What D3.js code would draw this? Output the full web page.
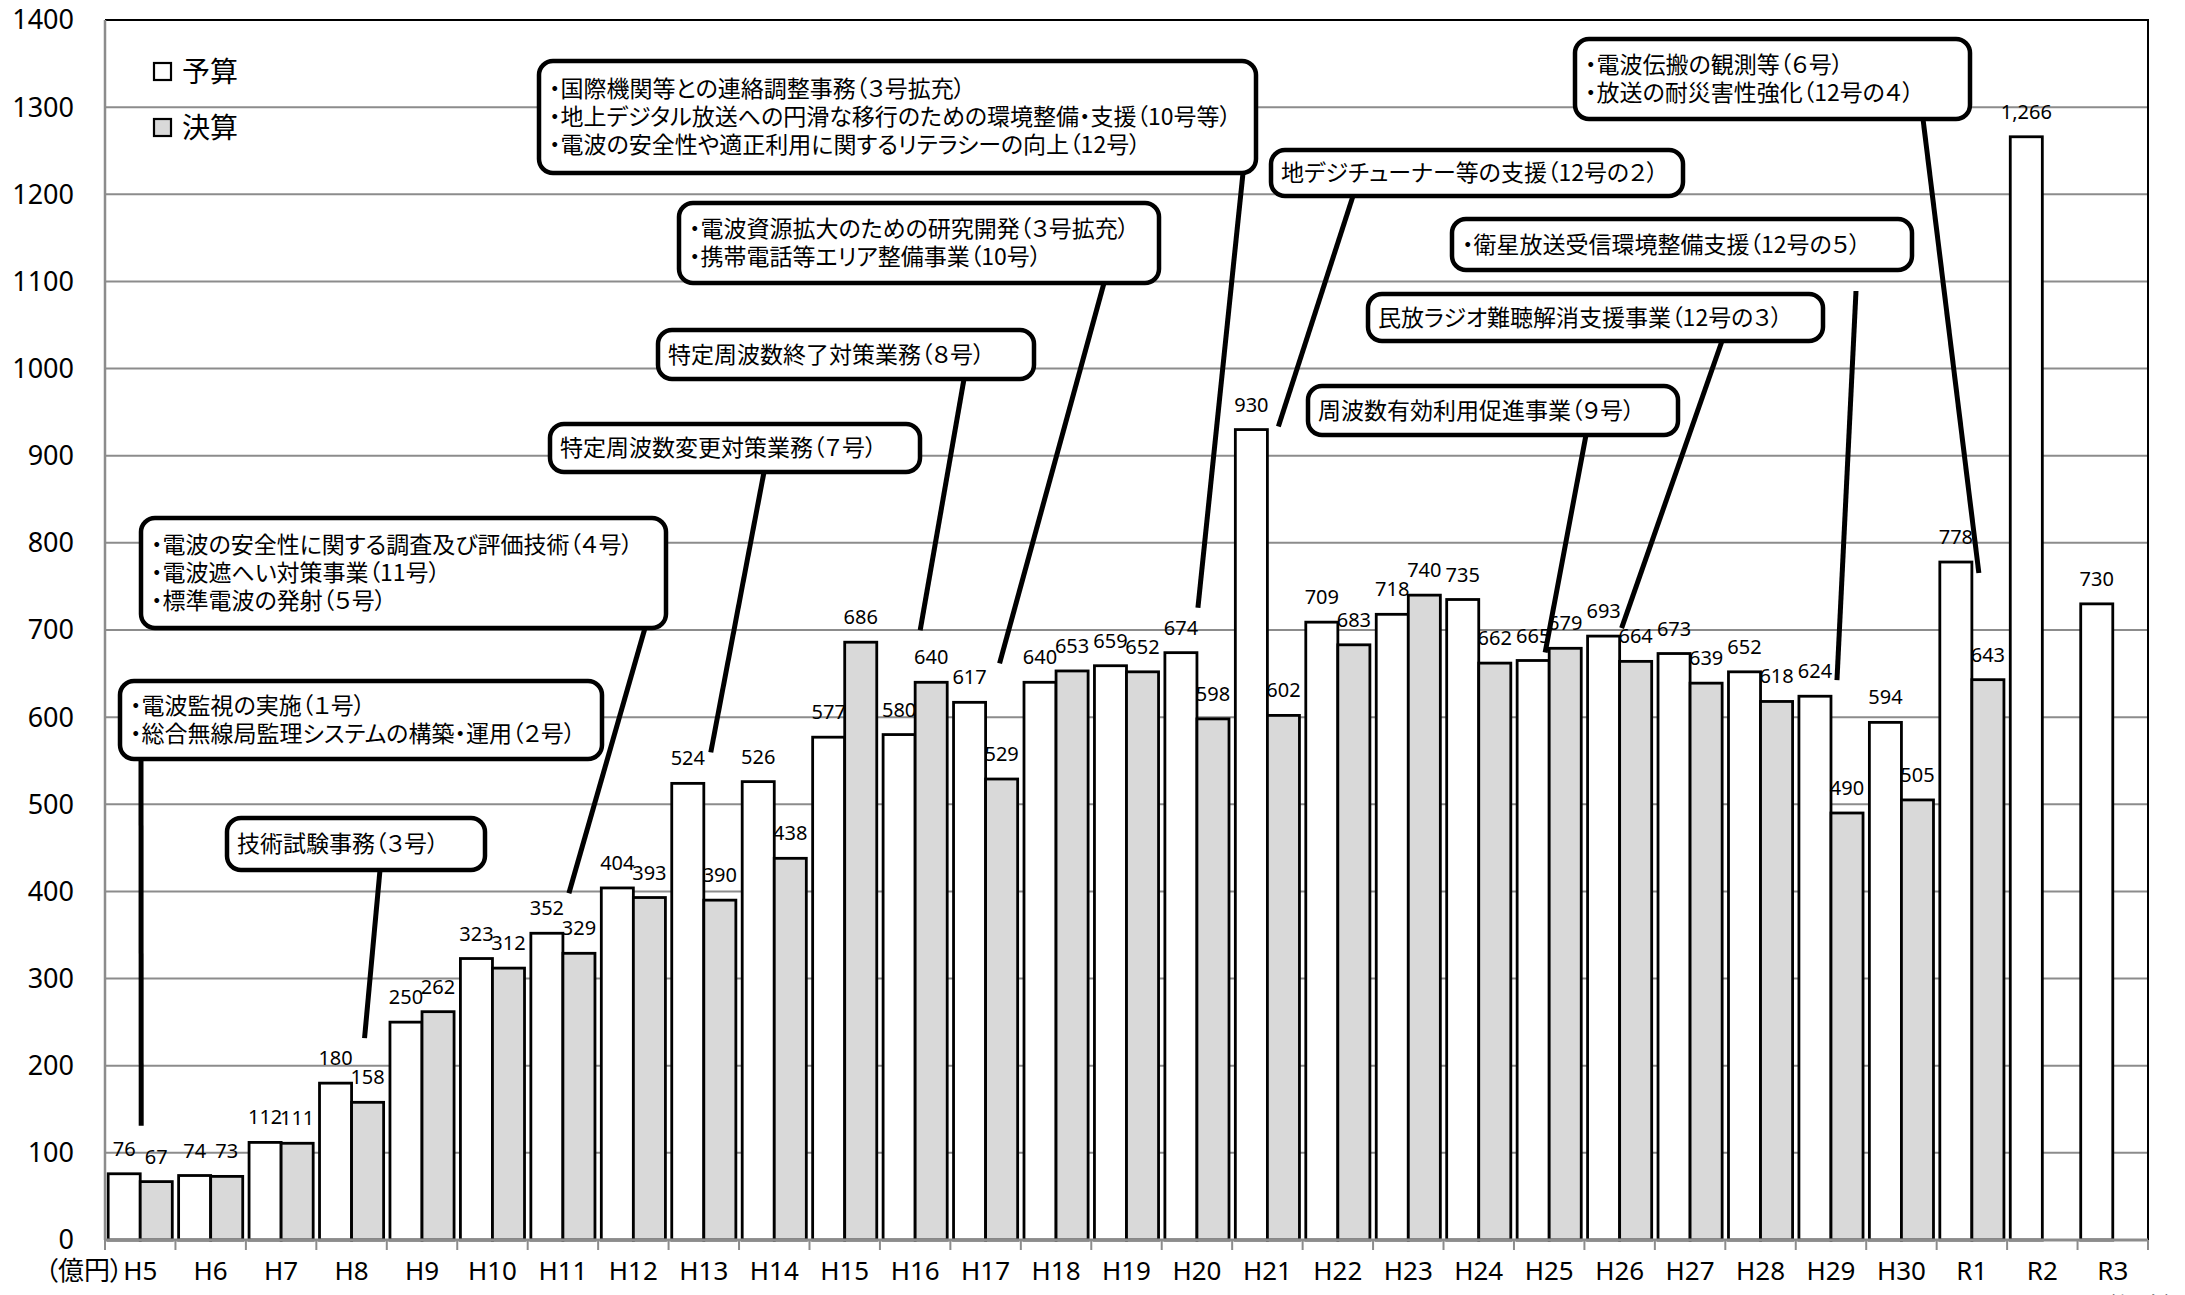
<!DOCTYPE html>
<html>
<head>
<meta charset="utf-8">
<script src="https://cdn.jsdelivr.net/npm/d3@7"></script>
<style>
body { margin: 0; background: #fff; }
svg { display: block; }
.num { font-family: "Noto Sans", "Open Sans", sans-serif; fill: #000; }
.jp { font-family: "Noto Sans CJK JP", sans-serif; fill: #000; font-feature-settings: "palt" 1; }
</style>
</head>
<body>
<svg width="2185" height="1295"></svg>
<script>
// fiscal years
var years = ["H5","H6","H7","H8","H9","H10","H11","H12","H13","H14","H15","H16","H17","H18","H19",
	"H20","H21","H22","H23","H24","H25","H26","H27","H28","H29","H30","R1","R2","R3"];
// 予算 (budget), 億円
var budget = [76,74,112,180,250,323,352,404,524,526,577,580,617,640,659,674,930,709,718,735,665,693,673,652,624,594,778,1266,730];
// 決算 (settlement), 億円
var settlement = [67,73,111,158,262,312,329,393,390,438,686,640,529,653,652,598,602,683,740,662,679,664,639,618,490,505,643,null,null];
var seriesNames = ["予算","決算"];
var yTickValues = [0,100,200,300,400,500,600,700,800,900,1000,1100,1200,1300,1400];
// callout texts
var noteTexts = [
	["・電波監視の実施（１号）", "・総合無線局監理システムの構築・運用（２号）"],
	["技術試験事務（３号）"],
	["・電波の安全性に関する調査及び評価技術（４号）", "・電波遮へい対策事業（11号）", "・標準電波の発射（５号）"],
	["特定周波数変更対策業務（７号）"],
	["特定周波数終了対策業務（８号）"],
	["・電波資源拡大のための研究開発（３号拡充）", "・携帯電話等エリア整備事業（10号）"],
	["・国際機関等との連絡調整事務（３号拡充）", "・地上デジタル放送への円滑な移行のための環境整備・支援（10号等）", "・電波の安全性や適正利用に関するリテラシーの向上（12号）"],
	["地デジチューナー等の支援（12号の２）"],
	["周波数有効利用促進事業（９号）"],
	["民放ラジオ難聴解消支援事業（12号の３）"],
	["・衛星放送受信環境整備支援（12号の５）"],
	["・電波伝搬の観測等（６号）", "・放送の耐災害性強化（12号の４）"]
];
// which bar each callout points at
var noteTargets = [
	{year: "H5", s: 0}, {year: "H8", s: 0}, {year: "H11", s: 0}, {year: "H13", s: 0},
	{year: "H16", s: 1}, {year: "H17", s: 0}, {year: "H20", s: 0}, {year: "H21", s: 0},
	{year: "H25", s: 0}, {year: "H26", s: 0}, {year: "H29", s: 0}, {year: "R1", s: 0}
];
/////////////////////////////////////
// callout layout: box, start of leader line, tip offset from bar top
var noteLayout = [
	{x: 120, y: 681, w: 482, h: 78, sx: 141, sy: 759, dx: 17, dy: 48},
	{x: 227, y: 818, w: 258, h: 52, sx: 380, sy: 870, dx: 29, dy: 45},
	{x: 141, y: 518, w: 525, h: 110, sx: 645, sy: 628, dx: 22, dy: 40},
	{x: 550, y: 424, w: 370, h: 48, sx: 764, sy: 472, dx: 23, dy: 31},
	{x: 658, y: 330, w: 376, h: 49, sx: 964, sy: 379, dx: -11, dy: 52},
	{x: 679, y: 203, w: 480, h: 80, sx: 1104, sy: 283, dx: 30, dy: 39},
	{x: 539, y: 61, w: 717, h: 112, sx: 1243, sy: 173, dx: 17, dy: 45},
	{x: 1271, y: 150, w: 412, h: 46, sx: 1353, sy: 196, dx: 27, dy: 3},
	{x: 1308, y: 386, w: 370, h: 49, sx: 1586, sy: 435, dx: 12, dy: 8},
	{x: 1368, y: 294, w: 455, h: 47, sx: 1722, sy: 341, dx: 18, dy: 8},
	{x: 1452, y: 219, w: 460, h: 51, sx: 1856, sy: 291, dx: 22, dy: 16},
	{x: 1575, y: 39, w: 395, h: 80, sx: 1923, sy: 119, dx: 23, dy: -11}
];

var svg = d3.select("svg"),
	plotLeft = 105, plotRight = 2148, plotTop = 20, plotBottom = 1240;

var x = d3.scaleBand()
	.domain(years)
	.range([plotLeft, plotRight])
	.paddingInner(0.09)
	.paddingOuter(0.045);
var xs = d3.scaleBand()
	.domain([0, 1])
	.range([0, x.bandwidth()]);
var y = d3.scaleLinear()
	.domain([0, 1400])
	.range([plotBottom, plotTop]);

var rows = years.map(function (d, i) {
	return {year: d, values: [budget[i], settlement[i]]};
});
var gap = (x.step() - x.bandwidth()) / 2;

// gridlines
svg.append("g")
	.selectAll("line")
	.data(yTickValues.filter(function (v) { return v > 0 && v < 1400; }))
	.enter().append("line")
	.attr("x1", plotLeft).attr("x2", plotRight)
	.attr("y1", function (v) { return y(v); })
	.attr("y2", function (v) { return y(v); })
	.attr("stroke", "#8c8c8c")
	.attr("stroke-width", 2);

// frame top / right
svg.append("path")
	.attr("d", "M" + plotLeft + "," + y(1400) + "H" + plotRight + "V" + plotBottom)
	.attr("fill", "none")
	.attr("stroke", "#000")
	.attr("stroke-width", 2);

// bars
var groups = svg.append("g")
	.selectAll("g")
	.data(rows)
	.enter().append("g")
	.attr("transform", function (d) { return "translate(" + x(d.year) + ",0)"; });

groups.selectAll("rect")
	.data(function (d) {
		return d.values.map(function (v, s) { return {v: v, s: s}; }).filter(function (e) { return e.v != null; });
	})
	.enter().append("rect")
	.attr("x", function (e) { return xs(e.s); })
	.attr("y", function (e) { return y(e.v); })
	.attr("width", xs.bandwidth())
	.attr("height", function (e) { return plotBottom - y(e.v); })
	.attr("fill", function (e) { return e.s === 0 ? "#fff" : "#d9d9d9"; })
	.attr("stroke", "#000")
	.attr("stroke-width", 2.8);

// axes
svg.append("line")
	.attr("x1", plotLeft).attr("x2", plotLeft)
	.attr("y1", plotTop).attr("y2", plotBottom)
	.attr("stroke", "#8c8c8c").attr("stroke-width", 2.5);
svg.append("line")
	.attr("x1", plotLeft).attr("x2", plotRight)
	.attr("y1", plotBottom).attr("y2", plotBottom)
	.attr("stroke", "#8c8c8c").attr("stroke-width", 3);

var boundaries = years.map(function (d) { return x(d) - gap; }).concat([plotRight]);
svg.append("g")
	.selectAll("line")
	.data(boundaries)
	.enter().append("line")
	.attr("x1", function (d) { return d; })
	.attr("x2", function (d) { return d; })
	.attr("y1", plotBottom).attr("y2", plotBottom + 10)
	.attr("stroke", "#8c8c8c").attr("stroke-width", 2);

// y tick labels
svg.append("g")
	.selectAll("text")
	.data(yTickValues)
	.enter().append("text")
	.attr("class", "num")
	.attr("x", 74)
	.attr("y", function (v) { return y(v); })
	.attr("dy", "0.35em")
	.attr("text-anchor", "end")
	.style("font-size", "27px")
	.text(function (v) { return v; });

// x tick labels
svg.append("g")
	.selectAll("text")
	.data(years)
	.enter().append("text")
	.attr("class", "num")
	.attr("x", function (d) { return x(d) + x.bandwidth() / 2; })
	.attr("y", 1271)
	.attr("dy", "0.35em")
	.attr("text-anchor", "middle")
	.style("font-size", "26px")
	.text(function (d) { return d; });

svg.append("text")
	.attr("class", "jp")
	.attr("x", 123)
	.attr("y", 1271)
	.attr("dy", "0.36em")
	.attr("text-anchor", "end")
	.style("font-size", "26px")
	.text("（億円）");

svg.append("text")
	.attr("class", "jp")
	.attr("x", 2140)
	.attr("y", 1316)
	.attr("text-anchor", "middle")
	.style("font-size", "25px")
	.text("（年度）");

// value labels
var fmt = d3.format(",");
groups.selectAll("text")
	.data(function (d) {
		return d.values.map(function (v, s) { return {v: v, s: s}; }).filter(function (e) { return e.v != null; });
	})
	.enter().append("text")
	.attr("class", "num")
	.attr("x", function (e) { return xs(e.s) + xs.bandwidth() / 2; })
	.attr("y", function (e) { return y(e.v) - 18; })
	.attr("text-anchor", "middle")
	.style("font-size", "20px")
	.text(function (e) { return fmt(e.v); });

// callouts
var notes = noteTexts.map(function (lines, i) {
	var t = noteTargets[i], L = noteLayout[i];
	var idx = years.indexOf(t.year);
	var v = t.s === 0 ? budget[idx] : settlement[idx];
	return {
		lines: lines, box: L,
		tx: x(t.year) + xs(t.s) + xs.bandwidth() / 2 + L.dx,
		ty: y(v) - L.dy
	};
});

svg.append("g")
	.selectAll("line")
	.data(notes)
	.enter().append("line")
	.attr("x1", function (d) { return d.box.sx; })
	.attr("y1", function (d) { return d.box.sy; })
	.attr("x2", function (d) { return d.tx; })
	.attr("y2", function (d) { return d.ty; })
	.attr("stroke", "#000")
	.attr("stroke-width", 5);

var boxes = svg.append("g")
	.selectAll("g")
	.data(notes)
	.enter().append("g");

boxes.append("rect")
	.attr("x", function (d) { return d.box.x; })
	.attr("y", function (d) { return d.box.y; })
	.attr("width", function (d) { return d.box.w; })
	.attr("height", function (d) { return d.box.h; })
	.attr("rx", 14)
	.attr("fill", "#fff")
	.attr("stroke", "#000")
	.attr("stroke-width", 4.5);

boxes.selectAll("text")
	.data(function (d) {
		var n = d.lines.length;
		var y0 = d.box.y + (d.box.h - (n - 1) * 28) / 2;
		return d.lines.map(function (s, k) { return {s: s, x: d.box.x + 10, y: y0 + k * 28}; });
	})
	.enter().append("text")
	.attr("class", "jp")
	.attr("x", function (e) { return e.x; })
	.attr("y", function (e) { return e.y; })
	.attr("dy", "0.36em")
	.style("font-size", "23px")
	.text(function (e) { return e.s; });

// legend
var legend = svg.append("g")
	.selectAll("g")
	.data(seriesNames)
	.enter().append("g")
	.attr("transform", function (d, i) { return "translate(154," + (63 + i * 56) + ")"; });
legend.append("rect")
	.attr("width", 17).attr("height", 17)
	.attr("fill", function (d, i) { return i === 0 ? "#fff" : "#d9d9d9"; })
	.attr("stroke", "#000")
	.attr("stroke-width", 2.2);
legend.append("text")
	.attr("class", "jp")
	.attr("x", 28)
	.attr("y", 9)
	.attr("dy", "0.36em")
	.style("font-size", "28px")
	.text(function (d) { return d; });
</script>
</body>
</html>
